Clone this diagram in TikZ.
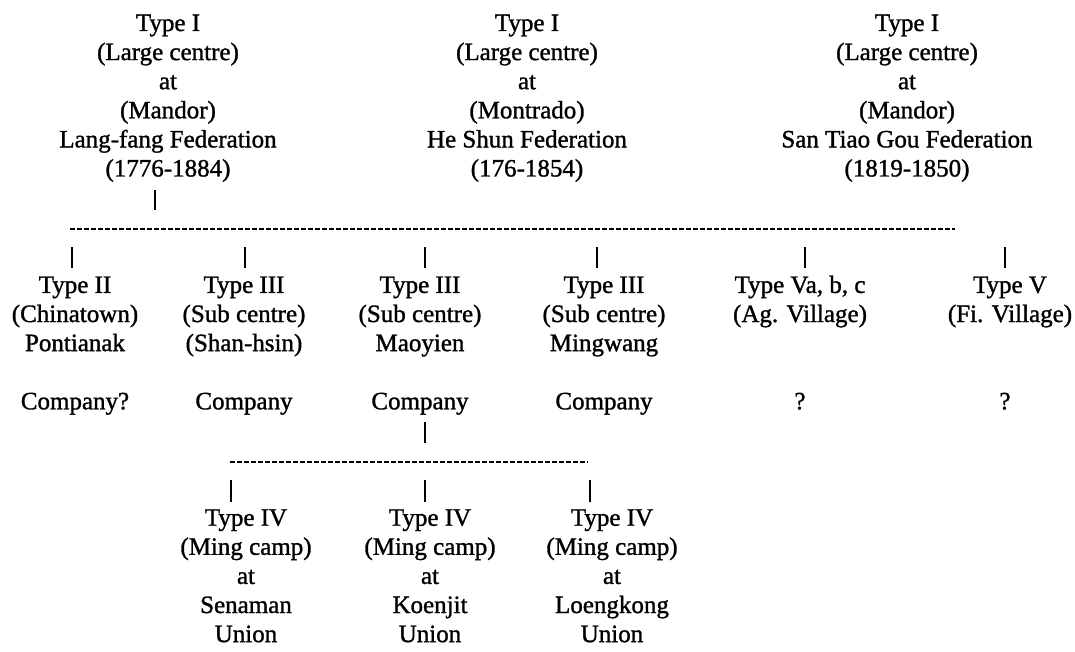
\documentclass[tikz,border=0pt]{standalone}
\usepackage{fontspec}
\setmainfont{Liberation Serif}[FakeBold=1.2]
\newcommand\txtblock[4]{%
  \foreach \ln [count=\i from 0] in {#4} {%
    \node[txt] (#1-\i) at (#2,{31+29.1*(#3+\i-1)}) {\ln};
  }%
}
\tikzset{
  txt/.style={anchor=base, inner sep=0pt, font=\fontsize{25}{29}\selectfont},
  vbar/.style={line width=2pt},
  hdash/.style={line width=1.8pt, dash pattern=on 5pt off 2pt},
}
\begin{document}
\begin{tikzpicture}[x=1pt,y=-1pt]
\useasboundingbox (0,0) rectangle (1075,652);
% top level
\txtblock{A}{168}{1}{Type I,(Large centre),at,(Mandor),Lang-fang Federation,(1776-1884)}
\txtblock{B}{527}{1}{Type I,(Large centre),at,(Montrado),He Shun Federation,(176-1854)}
\txtblock{C}{907}{1}{Type I,(Large centre),at,(Mandor),San Tiao Gou Federation,(1819-1850)}
% bar under A
\coordinate (a7t) at (155,190); \coordinate (a7b) at (155,210);
\draw[vbar] (a7t) -- (a7b);
% first dashed line
\coordinate (h1l) at (70,229); \coordinate (h1r) at (955,229);
\draw[hdash] (h1l) -- (h1r);
% bars row 9
\foreach \n/\x in {1/72,2/245,3/425,4/597,5/805,6/1005}{
  \coordinate (t\n) at (\x,247); \coordinate (u\n) at (\x,268);
  \draw[vbar] (t\n) -- (u\n);
}
% second level
\txtblock{c1}{75}{10}{Type II,(Chinatown),Pontianak}
\txtblock{c2}{244}{10}{Type III,(Sub centre),(Shan-hsin)}
\txtblock{c3}{420}{10}{Type III,(Sub centre),Maoyien}
\txtblock{c4}{604}{10}{Type III,(Sub centre),Mingwang}
\txtblock{c5}{800}{10}{{Type Va, b, c},(Ag. Village)}
\txtblock{c6}{1010}{10}{Type V,(Fi. Village)}
\txtblock{k1}{75}{14}{Company?}
\txtblock{k2}{244}{14}{Company}
\txtblock{k3}{420}{14}{Company}
\txtblock{k4}{604}{14}{Company}
\txtblock{k5}{800}{14}{?}
\txtblock{k6}{1005}{14}{?}
% bar under Maoyien company
\coordinate (m15t) at (425,422); \coordinate (m15b) at (425,443);
\draw[vbar] (m15t) -- (m15b);
% second dashed line
\coordinate (h2l) at (230,462); \coordinate (h2r) at (588,462);
\draw[hdash] (h2l) -- (h2r);
\foreach \n/\x in {1/231,2/425,3/590}{
  \coordinate (p\n) at (\x,480); \coordinate (q\n) at (\x,502);
  \draw[vbar] (p\n) -- (q\n);
}
% third level
\txtblock{d1}{246}{18}{Type IV,(Ming camp),at,Senaman,Union}
\txtblock{d2}{430}{18}{Type IV,(Ming camp),at,Koenjit,Union}
\txtblock{d3}{612}{18}{Type IV,(Ming camp),at,Loengkong,Union}
\end{tikzpicture}
\end{document}
